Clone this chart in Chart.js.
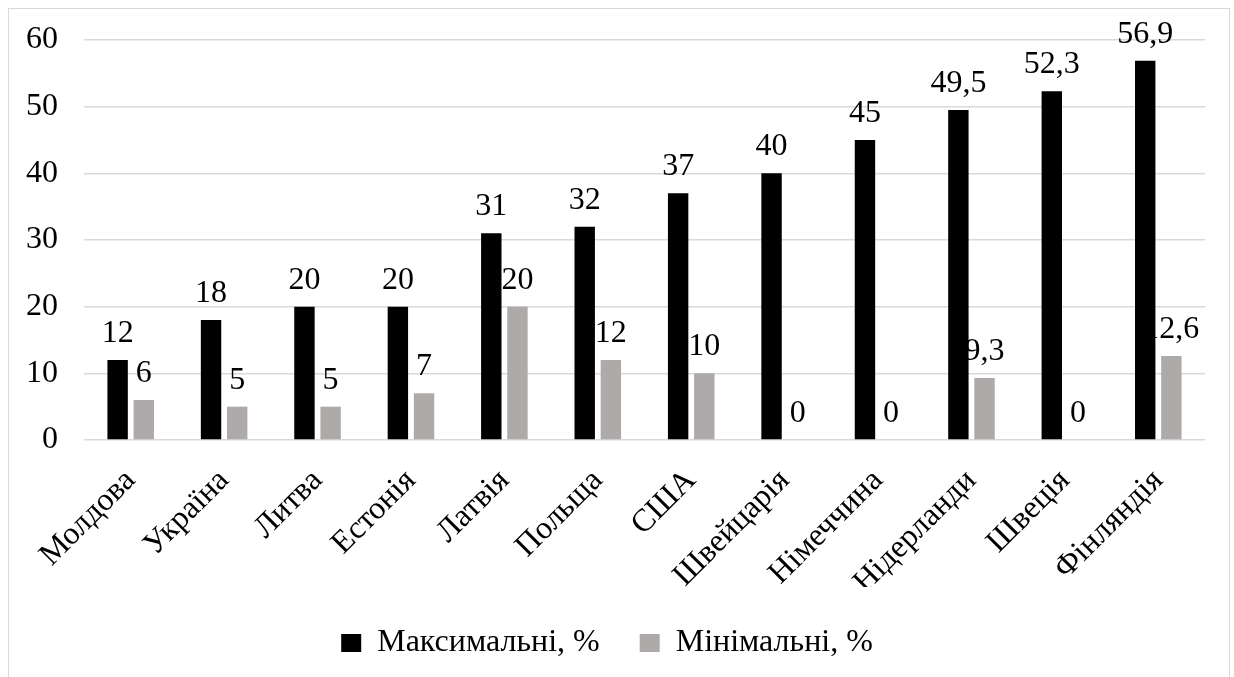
<!DOCTYPE html>
<html>
<head>
<meta charset="utf-8">
<script src="https://cdn.jsdelivr.net/npm/chart.js@4/dist/chart.umd.min.js"></script>
<style>
  html, body { margin: 0; padding: 0; background: #fff; overflow: hidden; }
  #frame { position: absolute; left: 8px; top: 8px; width: 1222px; height: 720px; border: 1px solid #d9d9d9; box-sizing: border-box; }
  #wrap { position: absolute; left: 0; top: 0; width: 1220px; height: 675px; }
</style>
</head>
<body>
<div id="frame"><div id="wrap"><canvas id="chart"></canvas></div></div>
<script>
const countries = ['Молдова', 'Україна', 'Литва', 'Естонія', 'Латвія', 'Польща', 'США', 'Швейцарія', 'Німеччина', 'Нідерланди', 'Швеція', 'Фінляндія'];
const maxValues = [12, 18, 20, 20, 31, 32, 37, 40, 45, 49.5, 52.3, 56.9];
const minValues = [6, 5, 5, 7, 20, 12, 10, 0, 0, 9.3, 0, 12.6];
const yTicks = [0, 10, 20, 30, 40, 50, 60];

const serif = '"Liberation Serif", "Times New Roman", serif';

// value labels go under the bars, like in the original (Finland's "1" is hidden by the black bar)
const valueLabels = {
  id: 'valueLabels',
  beforeDatasetsDraw(chart) {
    const ctx = chart.ctx;
    ctx.save();
    ctx.font = '32px ' + serif;
    ctx.fillStyle = '#000';
    ctx.textAlign = 'center';
    ctx.textBaseline = 'alphabetic';
    chart.data.datasets.forEach((ds, i) => {
      chart.getDatasetMeta(i).data.forEach((bar, j) => {
        ctx.fillText(String(ds.data[j]).replace('.', ','), bar.x, bar.y - 18);
      });
    });
    ctx.restore();
  }
};

new Chart(document.getElementById('chart'), {
  type: 'bar',
  data: {
    labels: countries,
    datasets: [
      { label: 'Максимальні, %', data: maxValues, backgroundColor: '#000000', borderWidth: 0 },
      { label: 'Мінімальні, %', data: minValues, backgroundColor: '#aeaaaa', borderWidth: 0 }
    ]
  },
  options: {
    responsive: true,
    maintainAspectRatio: false,
    animation: false,
    categoryPercentage: 0.56,
    barPercentage: 0.78,
    layout: { padding: { left: 0, right: 24, top: 31, bottom: 15 } },
    plugins: {
      tooltip: { enabled: false },
      legend: {
        position: 'bottom',
        labels: {
          color: '#000',
          font: { family: serif, size: 32 },
          boxWidth: 20,
          boxHeight: 18,
          padding: 40
        }
      }
    },
    scales: {
      y: {
        min: 0,
        max: 60,
        afterBuildTicks: s => { s.ticks = yTicks.map(v => ({ value: v })); },
        afterFit: s => { s.width = 75; s.paddingTop = 0; s.paddingBottom = 0; },
        ticks: { color: '#000', font: { family: serif, size: 32 }, padding: 26 },
        grid: { color: '#d9d9d9', lineWidth: 1.5, drawTicks: false },
        border: { display: false }
      },
      x: {
        afterFit: s => { s.height = 147; s.paddingTop = 0; s.paddingBottom = 0; },
        grid: { display: false },
        border: { display: false },
        ticks: { color: '#000', font: { family: serif, size: 32 }, maxRotation: 45, minRotation: 45, padding: 14 }
      }
    }
  },
  plugins: [valueLabels]
});
</script>
</body>
</html>
